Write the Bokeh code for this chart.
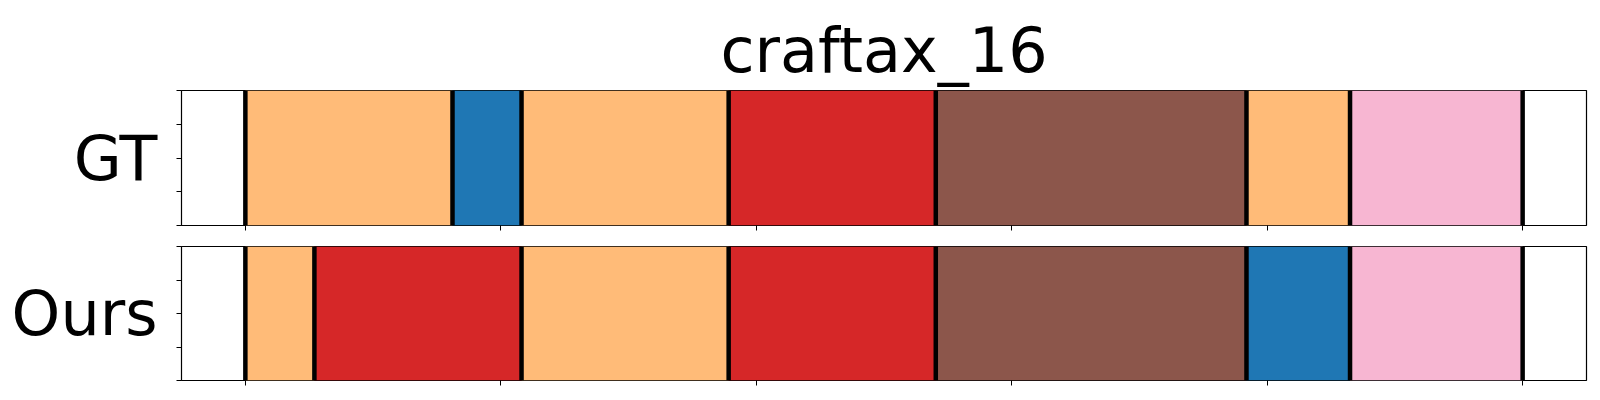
from bokeh.plotting import figure
from bokeh.layouts import column
from bokeh.models import Range1d, FixedTicker, CustomJSTickFormatter, ColumnDataSource, LinearAxis
from bokeh.embed import file_html
from bokeh.resources import INLINE

# segment classes and lengths (frames)
gt_labels = ["orange", "blue", "orange", "red", "brown", "orange", "pink"]
gt_lengths = [6, 2, 6, 6, 9, 3, 5]
ours_labels = ["orange", "red", "orange", "red", "brown", "blue", "pink"]
ours_lengths = [2, 6, 6, 6, 9, 3, 5]
row_names = ["GT", "Ours"]
title_text = "craftax_16"

palette = {
    "orange": "#ffbb78",
    "blue": "#1f77b4",
    "red": "#d62728",
    "brown": "#8c564b",
    "pink": "#f7b6d2",
}

FONT = "DejaVu Sans"


def make_panel(labels, lengths, name, height, top_border, bottom_border, title=None):
    total = sum(lengths)
    lefts, rights = [], []
    acc = 0
    for L in lengths:
        lefts.append(acc)
        acc += L
        rights.append(acc)
    src = ColumnDataSource(dict(left=lefts, right=rights,
                                color=[palette[c] for c in labels]))
    p = figure(width=1592, height=height, output_backend="svg", toolbar_location=None,
               x_range=Range1d(-0.05 * total, 1.05 * total), y_range=Range1d(0, 1),
               min_border_left=181, min_border_right=6,
               min_border_top=top_border, min_border_bottom=bottom_border)
    p.quad(left="left", right="right", bottom=0, top=1, fill_color="color",
           line_color=None, source=src)
    bounds = [0] + rights
    p.segment(x0=bounds, x1=bounds, y0=[0] * len(bounds), y1=[1] * len(bounds),
              line_color="black", line_width=4.5)
    p.xgrid.visible = False
    p.ygrid.visible = False
    p.outline_line_color = "black"
    p.outline_line_width = 1.2
    p.background_fill_color = "white"
    p.border_fill_color = "white"
    empty = CustomJSTickFormatter(code="return ''")
    p.xaxis.ticker = FixedTicker(ticks=[total * i / 5 for i in range(6)])
    p.yaxis.ticker = FixedTicker(ticks=[0, 0.25, 0.5, 0.75, 1.0])
    for ax in (p.xaxis[0], p.yaxis[0]):
        ax.formatter = empty
        ax.axis_line_color = None
        ax.major_tick_in = 0
        ax.major_tick_out = 5
        ax.major_tick_line_color = "black"
        ax.major_tick_line_width = 1
        ax.minor_tick_line_color = None
        ax.major_label_standoff = 0
    p.yaxis.axis_label = name
    p.yaxis.axis_label_orientation = "horizontal"
    p.yaxis.axis_label_text_font = FONT
    p.yaxis.axis_label_text_font_size = "62px"
    p.yaxis.axis_label_text_font_style = "normal"
    p.yaxis.axis_label_text_color = "black"
    p.yaxis.axis_label_standoff = 19
    if title:
        # invisible spacer axis between the frame and the title
        spacer = LinearAxis(ticker=FixedTicker(ticks=[]), formatter=CustomJSTickFormatter(code="return ''"),
                            major_tick_out=11, major_tick_in=0, major_label_standoff=0,
                            axis_line_color=None, major_tick_line_color=None,
                            minor_tick_line_color=None)
        p.add_layout(spacer, "above")
        p.title.text = title
        p.title.align = "center"
        p.title.vertical_align = "top"
        p.title.standoff = 4
        p.title.text_font = FONT
        p.title.text_font_size = "62px"
        p.title.text_font_style = "normal"
        p.title.text_color = "black"
    return p


p1 = make_panel(gt_labels, gt_lengths, row_names[0], 235, 90, 10, title=title_text)
p2 = make_panel(ours_labels, ours_lengths, row_names[1], 157, 11, 12)

layout = column(p1, p2, spacing=0)
open("out.html", "w").write(file_html(layout, INLINE))
